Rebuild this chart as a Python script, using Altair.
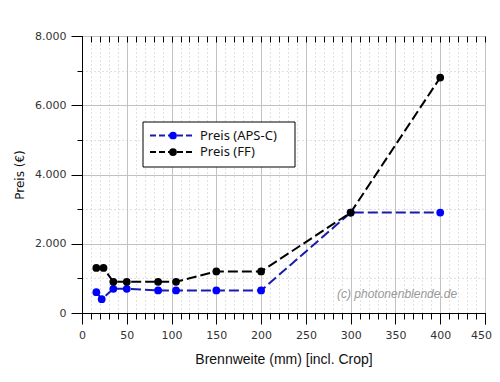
import altair as alt
import pandas as pd

# ---- data ----
brennweite_aps = [16, 22, 35, 50, 85, 105, 150, 200, 300, 400]
preis_aps = [600, 400, 700, 700, 650, 650, 650, 650, 2900, 2900]
brennweite_ff = [16, 24, 35, 50, 85, 105, 150, 200, 300, 400]
preis_ff = [1300, 1300, 900, 900, 900, 900, 1200, 1200, 2900, 6800]

x_major = [0, 50, 100, 150, 200, 250, 300, 350, 400, 450]
x_minor = list(range(0, 451, 10))
y_major = [0, 2000, 4000, 6000, 8000]
y_minor = [0, 1000, 2000, 3000, 4000, 5000, 6000, 7000, 8000]

series_names = ["Preis (APS-C)", "Preis (FF)"]
line_colors = ["#1a1ab0", "#000000"]
point_colors = ["#0000ff", "#000000"]
watermark = ["(c) photonenblende.de"]

W, H = 403, 277
X_LAST = x_major[-1]

aps = pd.DataFrame({"x": brennweite_aps, "y": preis_aps})
ff = pd.DataFrame({"x": brennweite_ff, "y": preis_ff})

xs = alt.Scale(domain=[0, 450], nice=False, zero=False)
ys = alt.Scale(domain=[0, 8000], nice=False)

GRID = "#c2c2c2"
LABEL_STYLE = dict(labelFont="DejaVu Sans", labelFontSize=11, labelColor="#333333",
                   labelPadding=5, labelFlush=False)

ax_x_minor = alt.Axis(orient="bottom", values=x_minor, labels=False, title=None,
                      domain=False, tickSize=6, tickColor="black", tickWidth=1,
                      grid=True, gridColor=GRID, gridDash=[1, 3], gridWidth=1)
ax_x_major = alt.Axis(orient="bottom", values=x_major, title="Brennweite (mm) [incl. Crop]",
                      labelExpr=f"datum.value == {X_LAST} ? '' : datum.label",
                      domain=True, domainColor="black", tickSize=11, tickColor="black",
                      grid=True, gridColor=GRID, gridWidth=1,
                      titleFont="Liberation Sans", titleFontSize=14, titleFontWeight="normal",
                      titleColor="#111111", titlePadding=12, **LABEL_STYLE)
ax_x_last = alt.Axis(orient="bottom", values=[X_LAST], title=None, domain=False,
                     tickSize=11, tickColor="black", grid=False, labelOffset=-4,
                     **LABEL_STYLE)
ax_x_top = alt.Axis(orient="top", values=x_minor, labels=False, title=None,
                    domain=False, tickSize=6, tickColor="black", offset=-6, grid=False)
ax_y_minor = alt.Axis(orient="left", values=y_minor, labels=False, title=None,
                      domain=False, tickSize=5, tickColor="black",
                      grid=True, gridColor=GRID, gridDash=[1, 3], gridWidth=1)
ax_y_major = alt.Axis(orient="left", values=y_major,
                      labelExpr="replace(format(datum.value, ','), ',', '.')",
                      title="Preis (€)", domain=True, domainColor="black",
                      tickSize=11, tickColor="black", grid=True, gridColor=GRID,
                      titleFont="DejaVu Sans", titleFontSize=12, titleFontWeight="normal",
                      titleColor="#111111", titlePadding=8, **LABEL_STYLE)

axis_minor = alt.Chart(aps).mark_point(opacity=0).encode(
    x=alt.X("x:Q", scale=xs, axis=ax_x_minor),
    y=alt.Y("y:Q", scale=ys, axis=ax_y_minor))
axis_major = alt.Chart(aps).mark_point(opacity=0).encode(
    x=alt.X("x:Q", scale=xs, axis=ax_x_major),
    y=alt.Y("y:Q", scale=ys, axis=ax_y_major))
axis_last = alt.Chart(aps).mark_point(opacity=0).encode(
    x=alt.X("x:Q", scale=xs, axis=ax_x_last),
    y=alt.Y("y:Q", scale=ys, axis=None))
axis_top = alt.Chart(aps).mark_point(opacity=0).encode(
    x=alt.X("x:Q", scale=xs, axis=ax_x_top),
    y=alt.Y("y:Q", scale=ys, axis=None))


def series(df, lc, pc):
    enc = dict(x=alt.X("x:Q", scale=xs, axis=None), y=alt.Y("y:Q", scale=ys, axis=None))
    line = alt.Chart(df).mark_line(color=lc, strokeWidth=2, strokeDash=[10, 4]).encode(**enc)
    pts = alt.Chart(df).mark_point(filled=True, color=pc, size=60, opacity=1).encode(**enc)
    return line, pts


aps_line, aps_pts = series(aps, line_colors[0], point_colors[0])
ff_line, ff_pts = series(ff, line_colors[1], point_colors[1])

# manual legend (box + dashed line with marker + label)
leg_df = pd.DataFrame({"name": series_names})
legend_box = alt.Chart(leg_df.head(1)).mark_rect(fill="white", stroke="black", strokeWidth=1).encode(
    x=alt.value(61), x2=alt.value(213), y=alt.value(86), y2=alt.value(131))
legend_layers = [legend_box]
for i, name in enumerate(series_names):
    yy = 99.5 + 16.6 * i
    row = pd.DataFrame({"name": [name]})
    legend_layers.append(alt.Chart(row).mark_rule(color=line_colors[i], strokeWidth=2,
                                                  strokeDash=[6, 3]).encode(
        x=alt.value(68), x2=alt.value(113), y=alt.value(yy)))
    legend_layers.append(alt.Chart(row).mark_point(filled=True, color=point_colors[i], size=60,
                                                   opacity=1).encode(
        x=alt.value(91), y=alt.value(yy)))
    legend_layers.append(alt.Chart(row).mark_text(align="left", baseline="middle",
                                                  font="Noto Sans", fontSize=13,
                                                  color="#111111").encode(
        x=alt.value(118), y=alt.value(yy), text="name:N"))

wm = alt.Chart(pd.DataFrame({"t": watermark})).mark_text(
    align="left", baseline="middle", font="Liberation Sans", fontSize=12,
    fontStyle="italic", color="#999999").encode(
    x=alt.value(255), y=alt.value(258), text="t:N")

chart = alt.layer(
    axis_minor, axis_major, axis_last, axis_top,
    aps_line, ff_line, aps_pts, ff_pts,
    wm, *legend_layers
).resolve_axis(x="independent", y="independent").properties(
    width=W, height=H,
    autosize=alt.AutoSizeParams(type="none"),
    padding={"left": 74, "top": 28, "right": 7, "bottom": 61},
).configure_view(stroke="black", strokeWidth=1).configure(background="white")

chart.save("out.html", embed_options={"renderer": "svg", "actions": False})
